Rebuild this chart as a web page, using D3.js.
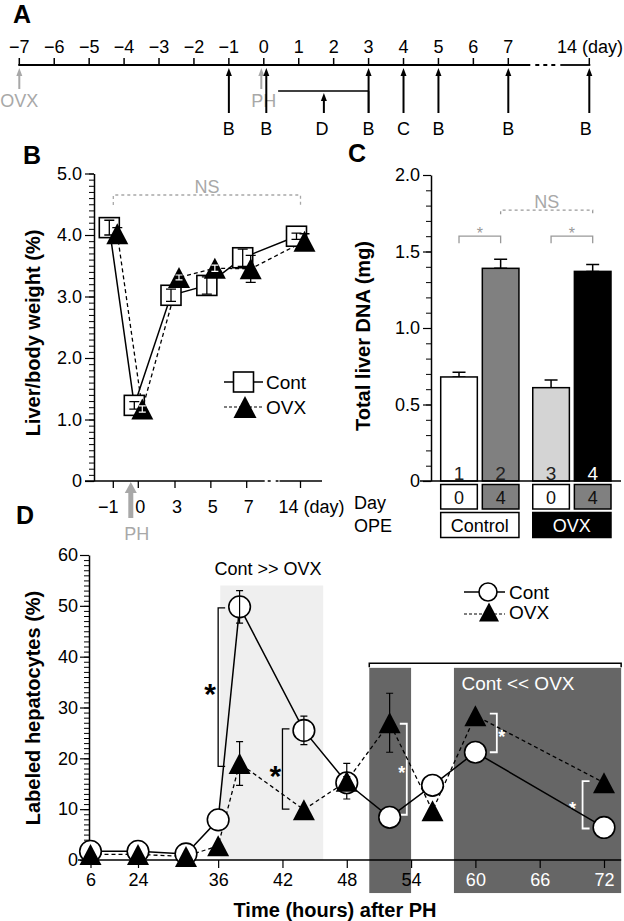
<!DOCTYPE html>
<html>
<head>
<meta charset="utf-8">
<title>Liver regeneration after PH in OVX mice</title>
<script src="https://cdnjs.cloudflare.com/ajax/libs/d3/7.8.5/d3.min.js"></script>
<style>
  body { margin: 0; background: #fff; }
</style>
</head>
<body>
<div class="fig"></div>
<script>
// ---------- panel A : time line (days)
var timeTicks = [-7, -6, -5, -4, -3, -2, -1, 0, 1, 2, 3, 4, 5, 6, 7, 14];
var sampleDays = [-1, 0, 3, 4, 5, 7, 14];
var sampleTags = ["B", "B", "B", "C", "B", "B", "B"];
var opDays = [-7, 0];
var opTags = ["OVX", "PH"];
var brduDay = 1.72, brduSpan = [0.41, 3];

// ---------- panel B : liver / body weight (%)
var bDays = [-1, 0, 3, 5, 7, 14];
var bCont = [4.12, 1.23, 3.02, 3.18, 3.63, 3.98];
var bContErr = [0.12, 0.06, 0.1, 0.14, 0.14, 0.05];
var bOvx = [4.02, 1.17, 3.31, 3.46, 3.45, 3.9];
var bOvxErr = [0.1, 0.05, 0.04, 0.05, 0.22, 0.12];
var bTicks = [0, 1, 2, 3, 4, 5];

// ---------- panel C : total liver DNA (mg)
var cNum = ["1", "2", "3", "4"];
var cDay = ["0", "4", "0", "4"];
var cOpe = ["Control", "Control", "OVX", "OVX"];
var cDna = [0.68, 1.39, 0.61, 1.37];
var cErr = [0.03, 0.06, 0.05, 0.045];
var cFill = ["#ffffff", "#808080", "#d4d4d4", "#000000"];
var cTicks = [0, 0.5, 1, 1.5, 2];

// ---------- panel D : labeled hepatocytes (%)
var dHours = [6, 24, 33, 36, 38, 44, 48, 52, 56, 60, 72];
var dCont = [1.7, 1.7, 1.2, 7.9, 49.8, 25.5, 15.2, 8.4, 14.7, 21.2, 6.4];
var dContErr = [0, 0, 0, 0, 3.2, 2.8, 1.2, 0, 0, 0, 0];
var dOvx = [1.1, 1.1, 0.7, 2.8, 19, 9.9, 15.5, 27, 9.7, 28.4, 15.2];
var dOvxErr = [0, 0, 0, 0, 4.3, 0, 3.5, 5.8, 0, 0, 0];
var dTicks = [6, 24, 36, 42, 48, 54, 60, 66, 72];
var lightShade = [36.2, 45.8, 54];          // hours from, to, top %
var darkShades = [[50.1, 54], [58, 73.6]];  // hours
var darkTop = 37.8, darkBottom = -6.5, darkBar = 38.7;
// significance brackets: hour, low %, high %, tick direction, star side
var sigHour = [36, 42, 53.6, 62, 70];
var sigLo = [18.4, 10, 8.9, 21.2, 6.2];
var sigHi = [49.6, 25.8, 26.8, 28.8, 15.5];
var sigDir = [1, 1, -1, -1, 1];
var sigStar = [-8, -7, -5, 5, -10];

var W = 624, H = 921;
var FONT = "'Liberation Sans', Arial, Helvetica, sans-serif";
var GRAY = "#a8a8a8";

var svg = d3.select(".fig").append("svg")
    .attr("width", W).attr("height", H)
    .attr("font-family", FONT);
svg.append("rect").attr("width", W).attr("height", H).attr("fill", "#fff");

function label(g, t, x, y, size, opts) {
    opts = opts || {};
    return g.append("text").attr("x", x).attr("y", y)
        .attr("text-anchor", opts.anchor || "middle")
        .attr("font-size", size)
        .attr("font-weight", opts.bold ? "bold" : "normal")
        .attr("fill", opts.fill || "#000")
        .text(t);
}

function arrowUp(g, x, yBottom, yTip, color, sw, hw, hh) {
    g.append("line").attr("x1", x).attr("x2", x)
        .attr("y1", yBottom).attr("y2", yTip + hh - 1)
        .attr("stroke", color).attr("stroke-width", sw);
    g.append("path")
        .attr("d", "M" + x + "," + yTip + "L" + (x - hw / 2) + "," + (yTip + hh) + "L" + (x + hw / 2) + "," + (yTip + hh) + "Z")
        .attr("fill", color);
}

function triPath(w, h) {
    return "M0," + (-h / 2) + "L" + (w / 2) + "," + (h / 2) + "L" + (-w / 2) + "," + (h / 2) + "Z";
}

function styleAxis(g, size) {
    g.selectAll("text").attr("font-size", size).attr("font-family", FONT);
    g.selectAll("line").attr("stroke", "#000").attr("stroke-width", 1.2);
    g.selectAll("path.domain").attr("stroke", "#000").attr("stroke-width", 1.5);
}

function errBar(g, x, y1, y2, cap, color, sw) {
    g.append("path").attr("d", "M" + x + "," + y1 + "V" + y2 + "M" + (x - cap / 2) + "," + y1 + "h" + cap + "M" + (x - cap / 2) + "," + y2 + "h" + cap)
        .attr("fill", "none").attr("stroke", color).attr("stroke-width", sw || 1.3);
}

// panel letters
[["A", 22, 14], ["B", 32, 155], ["C", 357, 153], ["D", 25, 515]].forEach(function (p) {
    svg.append("text").attr("x", p[1]).attr("y", p[2]).attr("dy", "0.36em")
        .attr("text-anchor", "middle").attr("font-size", 25).attr("font-weight", "bold").text(p[0]);
});

// ================= A =================
var gA = svg.append("g");
var xA = d3.scaleLinear().domain([-7, 7, 14]).range([19.3, 508.3, 589.3]);
var ay = 65;
gA.append("line").attr("x1", xA(-7) - 1).attr("x2", xA(7) + 22).attr("y1", ay).attr("y2", ay)
    .attr("stroke", "#000").attr("stroke-width", 1.8);
gA.append("line").attr("x1", xA(7) + 27).attr("x2", xA(14) - 31).attr("y1", ay).attr("y2", ay)
    .attr("stroke", "#000").attr("stroke-width", 1.8).attr("stroke-dasharray", "4,4");
gA.append("line").attr("x1", xA(14) - 29).attr("x2", xA(14) + 1).attr("y1", ay).attr("y2", ay)
    .attr("stroke", "#000").attr("stroke-width", 1.8);
gA.selectAll(".tk").data(timeTicks).enter().append("line")
    .attr("x1", function (d) { return xA(d); }).attr("x2", function (d) { return xA(d); })
    .attr("y1", ay).attr("y2", ay - 7).attr("stroke", "#000").attr("stroke-width", 1.5);
var fmt = d3.format("d");
timeTicks.forEach(function (d) {
    if (d === 14) label(gA, "14 (day)", 623, 53, 18, { anchor: "end" });
    else label(gA, fmt(d), xA(d), 53, 18);
});
// OVX / PH (grey)
opDays.forEach(function (d, i) {
    var x = xA(d) + (sampleDays.indexOf(d) >= 0 ? -2.5 : 0);
    arrowUp(gA, x, 89, 68, GRAY, 2, 6, 8);
    label(gA, opTags[i], xA(d), 106.5, 18, { fill: GRAY });
});
// labelling period for D
gA.append("line").attr("x1", xA(brduSpan[0])).attr("x2", xA(brduSpan[1]))
    .attr("y1", 91).attr("y2", 91).attr("stroke", "#000").attr("stroke-width", 1.5);
gA.append("line").attr("x1", xA(brduSpan[1])).attr("x2", xA(brduSpan[1]))
    .attr("y1", 91).attr("y2", 113).attr("stroke", "#000").attr("stroke-width", 1.5);
arrowUp(gA, xA(brduDay), 113, 93, "#000", 2, 6, 8);
label(gA, "D", xA(brduDay) - 2, 134.5, 18);
// sampling arrows
sampleDays.forEach(function (d, i) {
    var x = xA(d) + (opDays.indexOf(d) >= 0 ? 2.5 : 0);
    arrowUp(gA, x, 113, 68, "#000", 2, 6, 8);
    label(gA, sampleTags[i], d === 14 ? xA(d) - 3.5 : x, 134.5, 18);
});

// ================= B =================
var gB = svg.append("g");
var xB = d3.scaleLinear().domain([-1, 0, 3, 7, 14]).range([113.3, 138.3, 175, 246.7, 300.5]);
var yB = d3.scaleLinear().domain([0, 5]).range([481, 173.5]);
var bAx = 94;
var gBy = gB.append("g").attr("transform", "translate(" + bAx + ",0)")
    .call(d3.axisLeft(yB).tickValues(bTicks).tickSize(9).tickSizeOuter(0).tickPadding(3)
        .tickFormat(function (d) { return d === 0 ? "0" : d.toFixed(1); }));
styleAxis(gBy, 18);
var gByMin = gB.append("g").attr("transform", "translate(" + bAx + ",0)")
    .call(d3.axisLeft(yB).tickValues(d3.range(0, 5.001, 0.1)).tickSize(5).tickFormat(""));
gByMin.select(".domain").remove();
gByMin.selectAll("line").attr("stroke-width", 1);
// x axis (broken)
var by0 = yB(0);
gB.append("line").attr("x1", 85).attr("x2", xB(7) + 18).attr("y1", by0).attr("y2", by0)
    .attr("stroke", "#000").attr("stroke-width", 1.5);
gB.append("line").attr("x1", xB(7) + 21).attr("x2", xB(14) - 22).attr("y1", by0).attr("y2", by0)
    .attr("stroke", "#000").attr("stroke-width", 1.5).attr("stroke-dasharray", "3,5");
gB.append("line").attr("x1", xB(14) - 21).attr("x2", 322).attr("y1", by0).attr("y2", by0)
    .attr("stroke", "#000").attr("stroke-width", 1.5);
bDays.forEach(function (d) {
    gB.append("line").attr("x1", xB(d)).attr("x2", xB(d)).attr("y1", by0).attr("y2", by0 + 7)
        .attr("stroke", "#000").attr("stroke-width", 1.3);
    if (d === 14) label(gB, "14 (day)", xB(d) - 22, 512.5, 18, { anchor: "start" });
    else label(gB, fmt(d), xB(d) + (d < 0 ? -5 : 2), 512.5, 18);
});
arrowUp(gB, xB(-0.3), 518, 482, GRAY, 5, 12, 11);
label(gB, "PH", xB(-0.3) + 6, 540, 18, { fill: GRAY });
gB.append("text").attr("transform", "translate(40,333) rotate(-90)")
    .attr("text-anchor", "middle").attr("font-size", 20).attr("font-weight", "bold")
    .text("Liver/body weight (%)");
// NS bracket
gB.append("path")
    .attr("d", "M" + xB(-1) + ",205V195H" + xB(14) + "V205")
    .attr("fill", "none").attr("stroke", GRAY).attr("stroke-width", 1.3).attr("stroke-dasharray", "3,3");
label(gB, "NS", (xB(-1) + xB(14)) / 2, 193, 18, { fill: GRAY });
// lines
var bLineC = d3.line().x(function (d, i) { return xB(bDays[i]) - 4; }).y(function (d) { return yB(d); });
var bLineO = d3.line().x(function (d, i) { return xB(bDays[i]) + 4; }).y(function (d) { return yB(d); });
gB.append("path").attr("d", bLineC(bCont)).attr("fill", "none").attr("stroke", "#000").attr("stroke-width", 1.5);
gB.append("path").attr("d", bLineO(bOvx)).attr("fill", "none").attr("stroke", "#000")
    .attr("stroke-width", 1.3).attr("stroke-dasharray", "4,3");
// squares (Cont)
bCont.forEach(function (v, i) {
    var x = xB(bDays[i]) - 4;
    gB.append("rect").attr("x", x - 10).attr("y", yB(v) - 10).attr("width", 20).attr("height", 20)
        .attr("fill", "#fff").attr("stroke", "#000").attr("stroke-width", 1.6);
    errBar(gB, x, yB(v + bContErr[i]), yB(v - bContErr[i]), 10, "#000");
});
// OVX error bars that leave the marker (drawn under it)
bOvx.forEach(function (v, i) {
    if (yB(v - bOvxErr[i]) - yB(v + bOvxErr[i]) >= 12)
        errBar(gB, xB(bDays[i]) + 4, yB(v + bOvxErr[i]), yB(v - bOvxErr[i]), 10, "#000");
});
bOvx.forEach(function (v, i) {
    gB.append("path").attr("transform", "translate(" + (xB(bDays[i]) + 4) + "," + yB(v) + ")")
        .attr("d", triPath(22, 21)).attr("fill", "#000");
});
bOvx.forEach(function (v, i) {
    if (yB(v - bOvxErr[i]) - yB(v + bOvxErr[i]) < 12)
        errBar(gB, xB(bDays[i]) + 4, yB(v + bOvxErr[i]), yB(v - bOvxErr[i]), 7, "#fff", 1.2);
});
// legend
gB.append("line").attr("x1", 224).attr("x2", 263).attr("y1", 382).attr("y2", 382).attr("stroke", "#000").attr("stroke-width", 1.3);
gB.append("rect").attr("x", 233.5).attr("y", 372).attr("width", 20).attr("height", 20)
    .attr("fill", "#fff").attr("stroke", "#000").attr("stroke-width", 1.6);
label(gB, "Cont", 266, 388.5, 19, { anchor: "start" });
gB.append("line").attr("x1", 224).attr("x2", 263).attr("y1", 407).attr("y2", 407).attr("stroke", "#000")
    .attr("stroke-width", 1.2).attr("stroke-dasharray", "3,2");
gB.append("path").attr("transform", "translate(245,407)").attr("d", triPath(23, 22)).attr("fill", "#000");
label(gB, "OVX", 266, 413.5, 19, { anchor: "start" });

// ================= C =================
var gC = svg.append("g");
var yC = d3.scaleLinear().domain([0, 2]).range([481, 175]);
var cAx = 431;
var xGrp = d3.scaleBand().domain(["Control", "OVX"]).range([440.7, 611]).paddingInner(0.15);
var xSub = d3.scaleBand().domain(["0", "4"]).range([0, xGrp.bandwidth()]).paddingInner(0.12);
function cx0(i) { return xGrp(cOpe[i]) + xSub(cDay[i]); }
var gCy = gC.append("g").attr("transform", "translate(" + cAx + ",0)")
    .call(d3.axisLeft(yC).tickValues(cTicks).tickSize(8).tickSizeOuter(0).tickPadding(3)
        .tickFormat(function (d) { return d === 0 ? "0" : d.toFixed(1); }));
styleAxis(gCy, 18);
var gCyMin = gC.append("g").attr("transform", "translate(" + cAx + ",0)")
    .call(d3.axisLeft(yC).tickValues(d3.range(0, 2.001, 0.1)).tickSize(5).tickFormat(""));
gCyMin.select(".domain").remove();
gCyMin.selectAll("line").attr("stroke-width", 1);
gC.append("text").attr("transform", "translate(370,336) rotate(-90)")
    .attr("text-anchor", "middle").attr("font-size", 20).attr("font-weight", "bold")
    .text("Total liver DNA (mg)");
// bars
cDna.forEach(function (v, i) {
    var x = cx0(i), bw = xSub.bandwidth();
    errBar(gC, x + bw / 2, yC(v + cErr[i]), yC(v), 13, "#000", 1.5);
    gC.append("rect").attr("x", x).attr("y", yC(v)).attr("width", bw).attr("height", yC(0) - yC(v))
        .attr("fill", cFill[i]).attr("stroke", "#000").attr("stroke-width", 1.5);
    label(gC, cNum[i], x + bw / 2, yC(0) - 1, 19, { fill: cFill[i] === "#000000" ? "#fff" : "#222" });
    // Day row
    gC.append("rect").attr("x", x).attr("y", 484.5).attr("width", bw).attr("height", 24.5)
        .attr("fill", cDay[i] === "0" ? "#fff" : "#808080").attr("stroke", "#000").attr("stroke-width", 1.5);
    label(gC, cDay[i], x + bw / 2, 503.5, 18, { fill: "#111" });
});
gC.append("line").attr("x1", 420).attr("x2", 621).attr("y1", yC(0)).attr("y2", yC(0))
    .attr("stroke", "#000").attr("stroke-width", 1.5);
// OPE row
xGrp.domain().forEach(function (g) {
    var isOvx = g === "OVX";
    gC.append("rect").attr("x", xGrp(g)).attr("y", 512.5).attr("width", xGrp.bandwidth()).attr("height", 25)
        .attr("fill", isOvx ? "#000" : "#fff").attr("stroke", "#000").attr("stroke-width", 1.5);
    label(gC, g, xGrp(g) + xGrp.bandwidth() / 2, 532, 18, { fill: isOvx ? "#fff" : "#000" });
});
label(gC, "Day", 354, 509, 18, { anchor: "start" });
label(gC, "OPE", 354, 532, 18, { anchor: "start" });
// significance
function cMid(i) { return cx0(i) + xSub.bandwidth() / 2; }
[[0, 1], [2, 3]].forEach(function (p) {
    gC.append("path").attr("d", "M" + cMid(p[0]) + "," + (yC(1.6) + 7) + "V" + yC(1.6) + "H" + cMid(p[1]) + "V" + (yC(1.6) + 7))
        .attr("fill", "none").attr("stroke", "#999").attr("stroke-width", 1.3);
    label(gC, "*", (cMid(p[0]) + cMid(p[1])) / 2, yC(1.6) + 3, 16, { fill: "#999" });
});
gC.append("path").attr("d", "M" + cMid(1) + "," + (yC(1.77) + 4) + "V" + yC(1.77) + "H" + cMid(3) + "V" + (yC(1.77) + 4))
    .attr("fill", "none").attr("stroke", "#999").attr("stroke-width", 1.3).attr("stroke-dasharray", "3,3");
label(gC, "NS", (cMid(1) + cMid(3)) / 2, yC(1.77) - 2, 18, { fill: GRAY });

// ================= D =================
var gD = svg.append("g");
var xD = d3.scaleLinear().domain([6, 24, 33, 72]).range([90.5, 138, 186, 604]);
var yD = d3.scaleLinear().domain([0, 60]).range([860, 555]);
// shading
gD.append("rect").attr("x", xD(lightShade[0])).attr("y", yD(lightShade[2]))
    .attr("width", xD(lightShade[1]) - xD(lightShade[0])).attr("height", yD(0) - yD(lightShade[2]))
    .attr("fill", "#efefef");
darkShades.forEach(function (s) {
    gD.append("rect").attr("x", xD(s[0])).attr("y", yD(darkTop))
        .attr("width", xD(s[1]) - xD(s[0])).attr("height", yD(darkBottom) - yD(darkTop))
        .attr("fill", "#666666");
});
gD.append("path")
    .attr("d", "M" + xD(darkShades[0][0]) + "," + (yD(darkBar) + 4) + "V" + yD(darkBar) + "H" + xD(darkShades[1][1]) + "V" + (yD(darkBar) + 4))
    .attr("fill", "none").attr("stroke", "#000").attr("stroke-width", 1.5);
label(gD, "Cont << OVX", 518, 690, 19, { fill: "#fff" });
label(gD, "Cont >> OVX", 268, 574.5, 18);
// axes
var gDy = gD.append("g").attr("transform", "translate(89,0)")
    .call(d3.axisLeft(yD).tickValues(d3.range(0, 61, 10)).tickSize(9).tickSizeOuter(0).tickPadding(2));
styleAxis(gDy, 18);
var gDyMin = gD.append("g").attr("transform", "translate(89,0)")
    .call(d3.axisLeft(yD).tickValues(d3.range(0, 61, 1)).tickSize(5).tickFormat(""));
gDyMin.select(".domain").remove();
gDyMin.selectAll("line").attr("stroke-width", 1);
gD.append("line").attr("x1", 78).attr("x2", xD(darkShades[1][1])).attr("y1", yD(0)).attr("y2", yD(0))
    .attr("stroke", "#000").attr("stroke-width", 1.5);
var gDx = gD.append("g").attr("transform", "translate(0," + yD(0) + ")")
    .call(d3.axisBottom(xD).tickValues(dTicks).tickSize(8).tickSizeOuter(0).tickPadding(5));
gDx.select(".domain").remove();
styleAxis(gDx, 18);
gDx.selectAll("text").attr("fill", function (d) {
    return d > darkShades[1][0] && d < darkShades[1][1] ? "#fff" : "#000";
});
gD.append("text").attr("transform", "translate(40,708) rotate(-90)")
    .attr("text-anchor", "middle").attr("font-size", 20).attr("font-weight", "bold")
    .text("Labeled hepatocytes (%)");
label(gD, "Time (hours) after PH", 335, 917, 20, { bold: true });
// significance brackets
sigHour.forEach(function (h, i) {
    var x = xD(h), dark = i >= 2, col = dark ? "#fff" : "#000", t = 7 * sigDir[i];
    gD.append("path").attr("d", "M" + (x + t) + "," + yD(sigHi[i]) + "H" + x + "V" + yD(sigLo[i]) + "H" + (x + t))
        .attr("fill", "none").attr("stroke", col).attr("stroke-width", dark ? 1.8 : 1.3);
    var fs = dark ? 18 : 30;
    label(gD, "*", x + sigStar[i], yD((sigHi[i] + sigLo[i]) / 2) + 0.56 * fs, fs, { bold: true, fill: col });
});
// lines
var dLine = d3.line().x(function (d, i) { return xD(dHours[i]); }).y(function (d) { return yD(d); });
gD.append("path").attr("d", dLine(dCont)).attr("fill", "none").attr("stroke", "#000").attr("stroke-width", 1.5);
gD.append("path").attr("d", dLine(dOvx)).attr("fill", "none").attr("stroke", "#000")
    .attr("stroke-width", 1.3).attr("stroke-dasharray", "4,3");
// error bars
dOvx.forEach(function (v, i) {
    if (dOvxErr[i] > 0) errBar(gD, xD(dHours[i]), yD(v + dOvxErr[i]), yD(v - dOvxErr[i]), 7, "#000", 1.2);
});
// markers
dCont.forEach(function (v, i) {
    gD.append("circle").attr("cx", xD(dHours[i])).attr("cy", yD(v)).attr("r", 10.8)
        .attr("fill", "#fff").attr("stroke", "#000").attr("stroke-width", 1.6);
});
dCont.forEach(function (v, i) {
    if (dContErr[i] > 0) errBar(gD, xD(dHours[i]), yD(v + dContErr[i]), yD(v - dContErr[i]), 7, "#000", 1.2);
});
dOvx.forEach(function (v, i) {
    gD.append("path").attr("transform", "translate(" + xD(dHours[i]) + "," + yD(v) + ")")
        .attr("d", triPath(22, 21)).attr("fill", "#000");
});
// legend
gD.append("line").attr("x1", 464).attr("x2", 505).attr("y1", 592).attr("y2", 592).attr("stroke", "#000").attr("stroke-width", 1.3);
gD.append("circle").attr("cx", 488).attr("cy", 592).attr("r", 9).attr("fill", "#fff").attr("stroke", "#000").attr("stroke-width", 1.6);
label(gD, "Cont", 509, 598.5, 19, { anchor: "start" });
gD.append("line").attr("x1", 464).attr("x2", 505).attr("y1", 614).attr("y2", 614).attr("stroke", "#000")
    .attr("stroke-width", 1.2).attr("stroke-dasharray", "3,2");
gD.append("path").attr("transform", "translate(489,612)").attr("d", triPath(20, 19)).attr("fill", "#000");
label(gD, "OVX", 509, 618.5, 19, { anchor: "start" });
</script>
</body>
</html>
